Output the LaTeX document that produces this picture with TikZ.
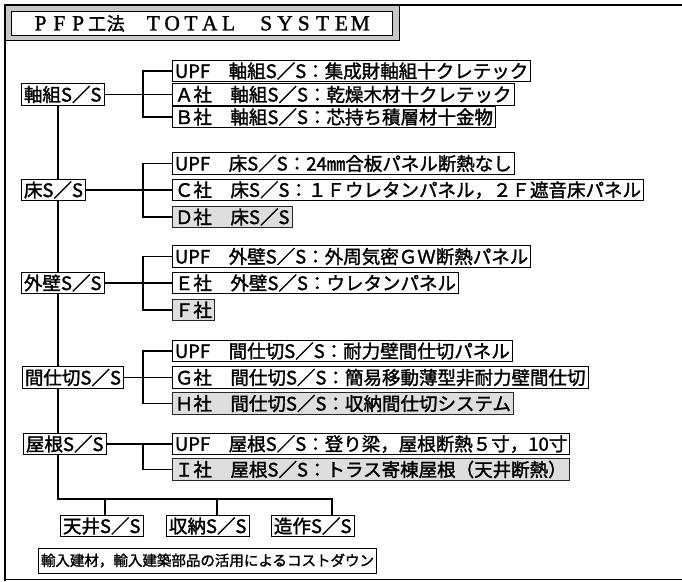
\documentclass[tikz,border=0pt]{standalone}
\usepackage{fontspec}
\setmainfont{Noto Sans CJK JP}[FakeBold=1.6]
\newfontfamily\serifL{Liberation Serif}[FakeBold=1.2]
\newcommand\tl[1]{\makebox[18.8pt]{\serifL\fontsize{21.5}{21.5}\selectfont #1}}
\newcommand\tk[1]{\makebox[18.8pt]{\fontsize{18}{18}\selectfont #1}}
\begin{document}
\begin{tikzpicture}[x=1pt,y=-1pt]
\tikzset{
 bx/.style={draw, line width=0.9pt, inner xsep=2.5pt, inner ysep=0pt, minimum height=21.5pt, anchor=west, font=\fontsize{18.5}{18.5}\selectfont, fill=white},
 sh/.style={bx, fill=black!13, draw=black!85},
 ln/.style={line width=1.2pt},
 frame/.style={line width=1.6pt},
}
\useasboundingbox (0,0) rectangle (682,581);
\fill[white] (0,0) rectangle (682,581);
% outer frame
\draw[frame] (682,5) -- (5,5) -- (5,581);
\draw[frame] (5,579.5) -- (682,579.5);
% title
\draw[fill=black!22, line width=0.8pt] (5,5) rectangle (399,40);
\draw[fill=white, line width=0.8pt] (11,11) rectangle (392,35);
\node[anchor=west, inner sep=0pt] (title) at (31,23.5) {\tl{P}\tl{F}\tl{P}\tk{工}\tk{法}\tk{}\tl{T}\tl{O}\tl{T}\tl{A}\tl{L}\tk{}\tl{S}\tl{Y}\tl{S}\tl{T}\tl{E}\tl{M}};
% left column
\node[bx] (jiku) at (21,94.5) {軸組S／S};
\node[bx] (yuka) at (21,190) {床S／S};
\node[bx] (gai) at (21,283) {外壁S／S};
\node[bx] (ma) at (22,377.5) {間仕切S／S};
\node[bx] (yane) at (23,444) {屋根S／S};
% group 1
\node[bx] (g1a) at (172,71) {UPF　軸組S／S：集成財軸組十クレテック};
\node[bx] (g1b) at (172,94.5) {Ａ社　軸組S／S：乾燥木材十クレテック};
\node[bx] (g1c) at (172,117) {Ｂ社　軸組S／S：芯持ち積層材十金物};
% group 2
\node[bx] (g2a) at (172,163.5) {UPF　床S／S：24㎜合板パネル断熱なし};
\node[bx] (g2b) at (172,190) {Ｃ社　床S／S：１Ｆウレタンパネル，２Ｆ遮音床パネル};
\node[sh] (g2c) at (172,217) {Ｄ社　床S／S};
% group 3
\node[bx] (g3a) at (172,256.5) {UPF　外壁S／S：外周気密ＧＷ断熱パネル};
\node[bx] (g3b) at (172,283) {Ｅ社　外壁S／S：ウレタンパネル};
\node[sh] (g3c) at (172,310) {Ｆ社};
% group 4
\node[bx] (g4a) at (172,351) {UPF　間仕切S／S：耐力壁間仕切パネル};
\node[bx] (g4b) at (172,377.5) {Ｇ社　間仕切S／S：簡易移動薄型非耐力壁間仕切};
\node[sh] (g4c) at (172,403.5) {Ｈ社　間仕切S／S：収納間仕切システム};
% group 5
\node[bx] (g5a) at (172,444) {UPF　屋根S／S：登り梁，屋根断熱５寸，10寸};
\node[sh] (g5b) at (172,469.5) {Ｉ社　屋根S／S：トラス寄棟屋根（天井断熱）};
% bottom
\node[bx] (tenj) at (60,526) {天井S／S};
\node[bx] (shuu) at (166,526) {収納S／S};
\node[bx] (zou) at (271,526) {造作S／S};
\node[bx, font=\fontsize{14.5}{14.5}\selectfont, minimum height=25pt] (cost) at (38,560.5) {輸入建材，輸入建築部品の活用によるコストダウン};
% connectors: branches
\draw[ln] (jiku.east) -- (g1b.west);
\draw[ln] (g1a.west) -- ++(-29,0) |- (g1c.west);
\draw[ln] (yuka.east) -- (g2b.west);
\draw[ln] (g2a.west) -- ++(-29,0) |- (g2c.west);
\draw[ln] (gai.east) -- (g3b.west);
\draw[ln] (g3a.west) -- ++(-29,0) |- (g3c.west);
\draw[ln] (ma.east) -- (g4b.west);
\draw[ln] (g4a.west) -- ++(-29,0) |- (g4c.west);
\draw[ln] (yane.east) -- (g5a.west);
\draw[ln] (g5a.west) -- ++(-29,0) |- (g5b.west);
% trunk
\coordinate (tx) at (58,0);
\coordinate (busE) at (332,499);
\coordinate (d1) at (105,499);
\coordinate (d2) at (217,499);
\draw[ln] (jiku.south -| tx) -- (yuka.north -| tx);
\draw[ln] (yuka.south -| tx) -- (gai.north -| tx);
\draw[ln] (gai.south -| tx) -- (ma.north -| tx);
\draw[ln] (ma.south -| tx) -- (yane.north -| tx);
\draw[ln] (yane.south -| tx) |- (busE) -- (busE |- zou.north);
\draw[ln] (d1) -- (d1 |- tenj.north);
\draw[ln] (d2) -- (d2 |- shuu.north);
\end{tikzpicture}
\end{document}
